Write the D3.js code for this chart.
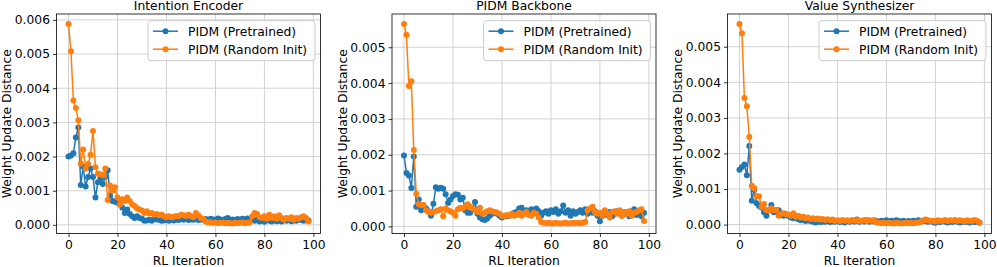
<!DOCTYPE html>
<html>
<head>
<meta charset="utf-8">
<script src="https://cdn.jsdelivr.net/npm/d3@7"></script>
<style>
  body { margin: 0; background: #fff; }
  svg text { font-family: "DejaVu Sans", sans-serif; fill: #000; }
</style>
</head>
<body>
<div id="chart"></div>
<script>
var width = 997, height = 267;

/* data, one value per RL iteration (0..98) */

var titles = ["Intention Encoder", "PIDM Backbone", "Value Synthesizer"];
var seriesNames = ["PIDM (Pretrained)", "PIDM (Random Init)"];
var colors = ["#1f77b4", "#ff7f0e"];
var xTicks = [0, 20, 40, 60, 80, 100];
var yTicks1 = [0, 0.001, 0.002, 0.003, 0.004, 0.005, 0.006];
var yTicks2 = [0, 0.001, 0.002, 0.003, 0.004, 0.005];

var encPre = [
  0.00200, 0.00203, 0.00210, 0.00256, 0.00285, 0.00117, 0.00170, 0.00112, 0.00140, 0.00165,
  0.00140, 0.00080, 0.00125, 0.00135, 0.00120, 0.00140, 0.00160, 0.00085, 0.00070, 0.00068,
  0.00065, 0.00060, 0.00050, 0.00035, 0.00045, 0.00032, 0.00025, 0.00020, 0.00025, 0.00020,
  0.00018, 0.00012, 0.00013, 0.00015, 0.00012, 0.00018, 0.00016, 0.00015, 0.00012, 0.00013,
  0.00014, 0.00012, 0.00015, 0.00013, 0.00016, 0.00014, 0.00018, 0.00015, 0.00017, 0.00014,
  0.00016, 0.00015, 0.00018, 0.00014, 0.00016, 0.00015, 0.00017, 0.00014, 0.00018, 0.00016,
  0.00015, 0.00019, 0.00016, 0.00014, 0.00017, 0.00020, 0.00015, 0.00016, 0.00013, 0.00017,
  0.00015, 0.00018, 0.00016, 0.00019, 0.00014, 0.00015, 0.00012, 0.00016, 0.00010, 0.00013,
  0.00009, 0.00014, 0.00012, 0.00010, 0.00015, 0.00011, 0.00013, 0.00010, 0.00014, 0.00012,
  0.00015, 0.00011, 0.00013, 0.00012, 0.00016, 0.00014, 0.00012, 0.00015, 0.00013
];
var encRand = [
  0.00588, 0.00508, 0.00364, 0.00342, 0.00306, 0.00180, 0.00221, 0.00165, 0.00178, 0.00205,
  0.00275, 0.00169, 0.00150, 0.00148, 0.00145, 0.00165, 0.00073, 0.00115, 0.00100, 0.00110,
  0.00080, 0.00060, 0.00075, 0.00070, 0.00080, 0.00070, 0.00060, 0.00055, 0.00048, 0.00045,
  0.00042, 0.00035, 0.00040, 0.00033, 0.00035, 0.00030, 0.00032, 0.00028, 0.00030, 0.00025,
  0.00022, 0.00025, 0.00022, 0.00024, 0.00026, 0.00025, 0.00030, 0.00028, 0.00026, 0.00030,
  0.00025, 0.00022, 0.00035, 0.00028, 0.00020, 0.00018, 0.00010, 0.00008, 0.00007, 0.00006,
  0.00007, 0.00005, 0.00006, 0.00007, 0.00005, 0.00006, 0.00005, 0.00004, 0.00006, 0.00005,
  0.00006, 0.00007, 0.00005, 0.00006, 0.00008, 0.00025, 0.00035, 0.00032, 0.00022, 0.00020,
  0.00025, 0.00018, 0.00030, 0.00020, 0.00025, 0.00018, 0.00028, 0.00020, 0.00015, 0.00020,
  0.00018, 0.00022, 0.00015, 0.00020, 0.00018, 0.00022, 0.00025, 0.00020, 0.00010
];

var bbPre = [
  0.00198, 0.00149, 0.00142, 0.00107, 0.00195, 0.00055, 0.00075, 0.00045, 0.00055, 0.00050,
  0.00042, 0.00030, 0.00063, 0.00109, 0.00105, 0.00108, 0.00105, 0.00090, 0.00065, 0.00075,
  0.00085, 0.00090, 0.00088, 0.00075, 0.00080, 0.00045, 0.00038, 0.00038, 0.00050, 0.00068,
  0.00035, 0.00025, 0.00020, 0.00018, 0.00022, 0.00030, 0.00035, 0.00040, 0.00035, 0.00030,
  0.00025, 0.00030, 0.00028, 0.00030, 0.00032, 0.00038, 0.00040, 0.00050, 0.00052, 0.00035,
  0.00045, 0.00040, 0.00048, 0.00038, 0.00050, 0.00042, 0.00030, 0.00038, 0.00042, 0.00035,
  0.00045, 0.00040, 0.00048, 0.00035, 0.00042, 0.00058, 0.00038, 0.00045, 0.00030, 0.00042,
  0.00035, 0.00040, 0.00045, 0.00038, 0.00048, 0.00035, 0.00040, 0.00038, 0.00042, 0.00030,
  0.00014, 0.00030, 0.00038, 0.00032, 0.00040, 0.00028, 0.00035, 0.00042, 0.00038, 0.00030,
  0.00040, 0.00035, 0.00028, 0.00042, 0.00048, 0.00032, 0.00040, 0.00028, 0.00038
];
var bbRand = [
  0.00565, 0.00535, 0.00392, 0.00405, 0.00213, 0.00091, 0.00062, 0.00060, 0.00060, 0.00045,
  0.00040, 0.00038, 0.00040, 0.00042, 0.00045, 0.00048, 0.00028, 0.00050, 0.00045, 0.00042,
  0.00038, 0.00030, 0.00048, 0.00052, 0.00050, 0.00055, 0.00062, 0.00055, 0.00050, 0.00045,
  0.00040, 0.00052, 0.00035, 0.00038, 0.00042, 0.00045, 0.00042, 0.00040, 0.00038, 0.00035,
  0.00030, 0.00028, 0.00032, 0.00030, 0.00035, 0.00030, 0.00032, 0.00038, 0.00030, 0.00035,
  0.00040, 0.00032, 0.00030, 0.00038, 0.00035, 0.00025, 0.00012, 0.00010, 0.00009, 0.00010,
  0.00009, 0.00008, 0.00010, 0.00009, 0.00008, 0.00009, 0.00010, 0.00008, 0.00009, 0.00010,
  0.00009, 0.00010, 0.00009, 0.00010, 0.00012, 0.00045, 0.00050, 0.00055, 0.00040, 0.00035,
  0.00038, 0.00030, 0.00045, 0.00035, 0.00025, 0.00040, 0.00042, 0.00035, 0.00045, 0.00030,
  0.00040, 0.00035, 0.00042, 0.00030, 0.00038, 0.00040, 0.00045, 0.00048, 0.00015
];

var vsPre = [
  0.00154, 0.00162, 0.00169, 0.00139, 0.00221, 0.00067, 0.00098, 0.00060, 0.00052, 0.00048,
  0.00035, 0.00025, 0.00040, 0.00055, 0.00035, 0.00038, 0.00040, 0.00030, 0.00025, 0.00028,
  0.00024, 0.00020, 0.00018, 0.00020, 0.00015, 0.00012, 0.00015, 0.00010, 0.00012, 0.00010,
  0.00008, 0.00006, 0.00008, 0.00007, 0.00009, 0.00008, 0.00010, 0.00007, 0.00009, 0.00008,
  0.00010, 0.00007, 0.00009, 0.00006, 0.00010, 0.00008, 0.00011, 0.00009, 0.00014, 0.00008,
  0.00010, 0.00009, 0.00012, 0.00008, 0.00011, 0.00009, 0.00010, 0.00008, 0.00011, 0.00009,
  0.00012, 0.00009, 0.00011, 0.00008, 0.00012, 0.00010, 0.00009, 0.00011, 0.00008, 0.00010,
  0.00009, 0.00011, 0.00008, 0.00012, 0.00009, 0.00010, 0.00011, 0.00008, 0.00010, 0.00007,
  0.00005, 0.00009, 0.00007, 0.00010, 0.00008, 0.00006, 0.00009, 0.00007, 0.00010, 0.00008,
  0.00006, 0.00009, 0.00007, 0.00008, 0.00006, 0.00009, 0.00007, 0.00008, 0.00006
];
var vsRand = [
  0.00564, 0.00538, 0.00356, 0.00333, 0.00246, 0.00109, 0.00102, 0.00080, 0.00080, 0.00050,
  0.00058, 0.00040, 0.00040, 0.00045, 0.00040, 0.00042, 0.00025, 0.00030, 0.00032, 0.00030,
  0.00028, 0.00025, 0.00032, 0.00022, 0.00025, 0.00020, 0.00022, 0.00018, 0.00020, 0.00016,
  0.00018, 0.00015, 0.00017, 0.00014, 0.00016, 0.00013, 0.00015, 0.00012, 0.00014, 0.00011,
  0.00012, 0.00010, 0.00013, 0.00011, 0.00012, 0.00010, 0.00013, 0.00011, 0.00012, 0.00010,
  0.00011, 0.00013, 0.00010, 0.00012, 0.00011, 0.00013, 0.00006, 0.00005, 0.00004, 0.00005,
  0.00004, 0.00005, 0.00004, 0.00003, 0.00005, 0.00004, 0.00003, 0.00004, 0.00005, 0.00004,
  0.00005, 0.00004, 0.00005, 0.00006, 0.00008, 0.00012, 0.00014, 0.00012, 0.00010, 0.00011,
  0.00009, 0.00012, 0.00010, 0.00011, 0.00013, 0.00010, 0.00012, 0.00011, 0.00013, 0.00010,
  0.00012, 0.00011, 0.00009, 0.00012, 0.00010, 0.00011, 0.00013, 0.00011, 0.00005
];

var panels = [
  { title: titles[0], series: [encPre, encRand], yTicks: yTicks1, left: 56.5 },
  { title: titles[1], series: [bbPre, bbRand], yTicks: yTicks2, left: 392 },
  { title: titles[2], series: [vsPre, vsRand], yTicks: yTicks2, left: 727.5 }
];

var axW = 264, axTop = 14, axBottom = 233.5, fs = 12.3;

var svg = d3.select('#chart').append('svg')
    .attr('width', width)
    .attr('height', height);

// matplotlib-ish autoscale: 5% margin on each side
function padded(lo, hi) {
  var p = (hi - lo) * 0.05;
  return [lo - p, hi + p];
}

panels.forEach(function(panel) {
  var g = svg.append('g').attr('transform', 'translate(' + panel.left + ',0)');
  var n = panel.series[0].length;

  var x = d3.scaleLinear().domain(padded(0, n - 1)).range([0, axW]);
  var allVals = panel.series[0].concat(panel.series[1]);
  var y = d3.scaleLinear().domain(padded(d3.min(allVals), d3.max(allVals))).range([axBottom, axTop]);

  // grid
  g.append('g').selectAll('line').data(xTicks).enter().append('line')
      .attr('x1', function(d){ return x(d) }).attr('x2', function(d){ return x(d) })
      .attr('y1', axTop).attr('y2', axBottom)
      .attr('stroke', '#d2d2d2').attr('stroke-width', 1);
  g.append('g').selectAll('line').data(panel.yTicks).enter().append('line')
      .attr('y1', function(d){ return y(d) }).attr('y2', function(d){ return y(d) })
      .attr('x1', 0).attr('x2', axW)
      .attr('stroke', '#d2d2d2').attr('stroke-width', 1);

  // axes
  var xAxis = g.append('g').attr('transform', 'translate(0,' + axBottom + ')')
      .call(d3.axisBottom(x).tickValues(xTicks).tickSize(3.5).tickPadding(3).tickFormat(d3.format('d')));
  var yAxis = g.append('g')
      .call(d3.axisLeft(y).tickValues(panel.yTicks).tickSize(3.5).tickPadding(3).tickFormat(d3.format('.3f')));
  [xAxis, yAxis].forEach(function(a) {
    a.select('.domain').remove();
    a.selectAll('line').attr('stroke', '#000').attr('stroke-width', 0.8);
    a.selectAll('text').attr('font-size', fs).attr('font-family', 'DejaVu Sans');
  });

  // lines and markers, pretrained first so random init sits on top
  var line = d3.line()
      .x(function(d, i){ return x(i) })
      .y(function(d){ return y(d) });

  panel.series.forEach(function(vals, s) {
    var sg = g.append('g');
    sg.append('path')
        .attr('d', line(vals))
        .attr('fill', 'none')
        .attr('stroke', colors[s])
        .attr('stroke-width', 1.5)
        .attr('stroke-linejoin', 'round');
    sg.selectAll('circle').data(vals).enter().append('circle')
        .attr('cx', function(d, i){ return x(i) })
        .attr('cy', function(d){ return y(d) })
        .attr('r', 3)
        .attr('fill', colors[s]);
  });

  // frame
  g.append('rect')
      .attr('x', 0).attr('y', axTop)
      .attr('width', axW).attr('height', axBottom - axTop)
      .attr('fill', 'none').attr('stroke', '#000').attr('stroke-width', 0.8);

  // legend
  var lg = g.append('g').attr('transform', 'translate(' + (axW - 5.5 - 167) + ',' + (axTop + 6.7) + ')');
  lg.append('rect')
      .attr('width', 167).attr('height', 40).attr('rx', 3)
      .attr('fill', '#fff').attr('fill-opacity', 0.8)
      .attr('stroke', '#cccccc').attr('stroke-width', 1);
  seriesNames.forEach(function(name, s) {
    var ly = 10.5 + s * 18;
    lg.append('line')
        .attr('x1', 5).attr('x2', 30).attr('y1', ly).attr('y2', ly)
        .attr('stroke', colors[s]).attr('stroke-width', 1.5);
    lg.append('circle').attr('cx', 17.5).attr('cy', ly).attr('r', 3).attr('fill', colors[s]);
    lg.append('text')
        .attr('x', 40).attr('y', ly).attr('dy', '0.36em')
        .attr('font-size', fs)
        .text(name);
  });

  // titles and labels
  g.append('text')
      .attr('x', axW / 2).attr('y', 10)
      .attr('text-anchor', 'middle').attr('font-size', fs)
      .text(panel.title);
  g.append('text')
      .attr('x', axW / 2).attr('y', 264.5)
      .attr('text-anchor', 'middle').attr('font-size', fs)
      .text('RL Iteration');
  g.append('text')
      .attr('transform', 'translate(-45.5,' + ((axTop + axBottom) / 2) + ') rotate(-90)')
      .attr('text-anchor', 'middle').attr('font-size', fs)
      .text('Weight Update Distance');
});
</script>
</body>
</html>
